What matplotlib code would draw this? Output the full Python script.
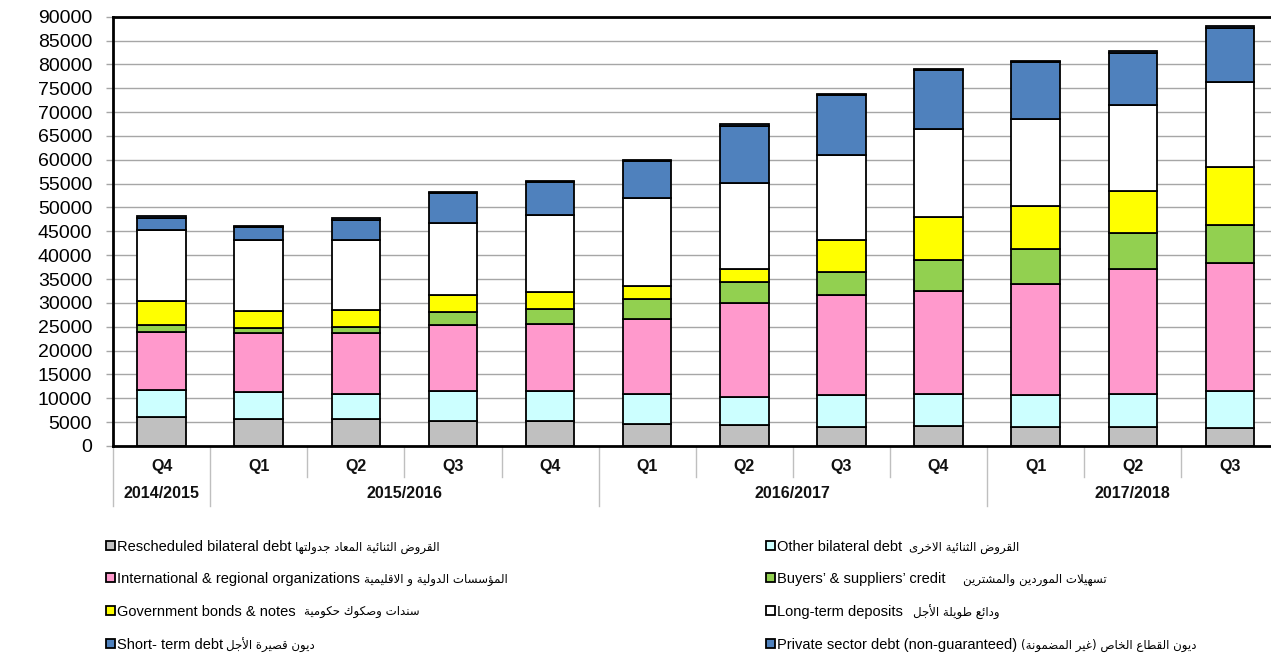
import numpy as np
import matplotlib
matplotlib.use("Agg")
import matplotlib.pyplot as plt
import matplotlib.transforms as mtransforms

# ---------------- data ----------------
quarters = ["Q4", "Q1", "Q2", "Q3", "Q4", "Q1", "Q2", "Q3", "Q4", "Q1", "Q2", "Q3"]
years = ["2014/2015", "2015/2016", "2016/2017", "2017/2018"]
year_spans = [(0, 0), (1, 4), (5, 8), (9, 11)]

rescheduled = [6100, 5650, 5600, 5300, 5300, 4600, 4400, 4050, 4250, 4050, 4050, 3850]
other_bilateral = [5600, 5600, 5250, 6300, 6300, 6350, 5950, 6650, 6650, 6650, 6850, 7700]
international = [12150, 12350, 12850, 13750, 14050, 15650, 19550, 20950, 21650, 23250, 26150, 26900]
buyers_suppliers = [1450, 1050, 1250, 2650, 3150, 4200, 4400, 4800, 6450, 7350, 7550, 7900]
gov_bonds = [5100, 3650, 3500, 3700, 3400, 2650, 2750, 6700, 9050, 9000, 8850, 12150]
long_term_deposits = [14950, 14900, 14750, 14950, 16300, 18500, 18150, 17950, 18400, 18250, 17950, 17750]
short_term = [2500, 2650, 4250, 6400, 6850, 7800, 11950, 12450, 12350, 11900, 10900, 11300]
private_sector = [300, 300, 300, 300, 300, 300, 300, 300, 300, 300, 450, 500]

series_en = [
    "Rescheduled bilateral debt",
    "Other bilateral debt",
    "International & regional organizations",
    "Buyers\u2019 & suppliers\u2019 credit",
    "Government bonds & notes",
    "Long-term deposits",
    "Short- term debt",
    "Private sector debt (non-guaranteed)",
]
series_ar = [
    "القروض الثنائية المعاد جدولتها",
    "القروض الثنائية الاخرى",
    "المؤسسات الدولية و الاقليمية",
    "تسهيلات الموردين والمشترين",
    "سندات وصكوك حكومية",
    "ودائع طويلة الأجل",
    "ديون قصيرة الأجل",
    "ديون القطاع الخاص (غير المضمونة)",
]
colors = ["#C0C0C0", "#CCFFFF", "#FF99CC", "#92D050", "#FFFF00", "#FFFFFF", "#4F81BD", "#4F81BD"]

# ---------------- layout constants (pixels) ----------------
W, H = 1271, 656
legend_cols_x = [106, 766]            # marker left edge of each legend column
legend_rows_y = [547, 579, 612, 645]  # row centres
arabic_gap_px = [4, 7, 4, 18, 8, 10, 3, 4]

# ---------------- Arabic shaping (presentation forms + visual order) ----------------
_TABLE = [
    ("\u0621", 0xFE80, 1), ("\u0622", 0xFE81, 2), ("\u0623", 0xFE83, 2), ("\u0624", 0xFE85, 2),
    ("\u0625", 0xFE87, 2), ("\u0626", 0xFE89, 4), ("\u0627", 0xFE8D, 2), ("\u0628", 0xFE8F, 4),
    ("\u0629", 0xFE93, 2), ("\u062A", 0xFE95, 4), ("\u062B", 0xFE99, 4), ("\u062C", 0xFE9D, 4),
    ("\u062D", 0xFEA1, 4), ("\u062E", 0xFEA5, 4), ("\u062F", 0xFEA9, 2), ("\u0630", 0xFEAB, 2),
    ("\u0631", 0xFEAD, 2), ("\u0632", 0xFEAF, 2), ("\u0633", 0xFEB1, 4), ("\u0634", 0xFEB5, 4),
    ("\u0635", 0xFEB9, 4), ("\u0636", 0xFEBD, 4), ("\u0637", 0xFEC1, 4), ("\u0638", 0xFEC5, 4),
    ("\u0639", 0xFEC9, 4), ("\u063A", 0xFECD, 4), ("\u0641", 0xFED1, 4), ("\u0642", 0xFED5, 4),
    ("\u0643", 0xFED9, 4), ("\u0644", 0xFEDD, 4), ("\u0645", 0xFEE1, 4), ("\u0646", 0xFEE5, 4),
    ("\u0647", 0xFEE9, 4), ("\u0648", 0xFEED, 2), ("\u0649", 0xFEEF, 2), ("\u064A", 0xFEF1, 4),
]
FORMS = {c: [chr(b + i) for i in range(n)] for c, b, n in _TABLE}
LAMALEF = {"\u0622": 0xFEF5, "\u0623": 0xFEF7, "\u0625": 0xFEF9, "\u0627": 0xFEFB}


def shape_ar(text):
    toks = []
    i = 0
    while i < len(text):
        c = text[i]
        if c == "\u0644" and i + 1 < len(text) and text[i + 1] in LAMALEF:
            toks.append(("LA", text[i + 1]))
            i += 2
        else:
            toks.append(("C", c))
            i += 1

    def joins(t):
        return t[0] == "LA" or (t[1] in FORMS and t[1] != "\u0621")

    def dual(t):
        return t[0] == "C" and t[1] in FORMS and len(FORMS[t[1]]) == 4

    out = []
    for k, t in enumerate(toks):
        prev = toks[k - 1] if k > 0 else None
        nxt = toks[k + 1] if k + 1 < len(toks) else None
        cp = prev is not None and dual(prev) and joins(t)
        if t[0] == "LA":
            out.append(chr(LAMALEF[t[1]] + (1 if cp else 0)))
            continue
        c = t[1]
        if c not in FORMS:
            out.append(c)
            continue
        f = FORMS[c]
        cn = len(f) == 4 and nxt is not None and joins(nxt)
        if cp and cn:
            out.append(f[3])
        elif cp:
            out.append(f[1])
        elif cn:
            out.append(f[2])
        else:
            out.append(f[0])
    s = "".join(out)[::-1]
    return s.translate(str.maketrans("()", ")("))


FONT = ["Liberation Sans", "DejaVu Sans"]
plt.rcParams["font.family"] = FONT

# ---------------- figure ----------------
fig = plt.figure(figsize=(W / 100, H / 100), dpi=100)
ax = fig.add_axes([113 / W, (H - 446) / H, (1278.5 - 113) / W, (446 - 16.7) / H])

data = [rescheduled, other_bilateral, international, buyers_suppliers,
        gov_bonds, long_term_deposits, short_term, private_sector]
x = np.arange(len(quarters))
bottom = np.zeros(len(quarters))
handles = []
for vals, col in zip(data, colors):
    v = np.array(vals, dtype=float)
    b = ax.bar(x, v, width=0.5, bottom=bottom, color=col, edgecolor="black",
               linewidth=1.3, zorder=3)
    handles.append(b)
    bottom += v

ax.set_xlim(-0.5, len(quarters) - 0.5)
ax.set_ylim(0, 90000)
ax.set_yticks(np.arange(0, 90001, 5000))
ax.set_yticklabels([str(v) for v in range(0, 90001, 5000)], fontsize=14)
ax.yaxis.grid(True, color="#A6A6A6", linewidth=1.0, zorder=0)
ax.tick_params(axis="y", length=5, width=1, color="#A6A6A6", pad=10)
ax.tick_params(axis="x", length=0, labelbottom=False)
for side in ["left", "bottom", "top"]:
    ax.spines[side].set_linewidth(2.0)
    ax.spines[side].set_color("black")
ax.spines["right"].set_visible(False)
ax.spines["left"].set_zorder(5)
ax.spines["bottom"].set_zorder(5)

# category table under the axis
trans = mtransforms.blended_transform_factory(ax.transData, ax.transAxes)
h_ax = 446 - 16.7
q_y = -(466 - 446) / h_ax
yr_y = -(494 - 446) / h_ax
short_d = -(477 - 446) / h_ax
long_d = -(506 - 446) / h_ax

for xi, q in zip(x, quarters):
    ax.text(xi, q_y, q, transform=trans, ha="center", va="center",
            fontsize=11.5, fontweight="bold", color="#111111")

long_bounds = [-0.5] + [s[1] + 0.5 for s in year_spans[:-1]]
for k in range(len(quarters)):
    xb = k - 0.5
    depth = long_d if xb in long_bounds else short_d
    ax.plot([xb, xb], [0, depth], transform=trans, color="#BFBFBF",
            linewidth=1.0, clip_on=False, zorder=1)

for (a, b), yl in zip(year_spans, years):
    ax.text((a + b) / 2, yr_y, yl, transform=trans, ha="center", va="center",
            fontsize=11.5, fontweight="bold", color="#111111")

# ---------------- legend: one entry per slot, two columns ----------------
legends = []
for i, (h, en) in enumerate(zip(handles, series_en)):
    col, row = i % 2, i // 2
    leg = fig.legend([h], [en], loc="center left",
                     bbox_to_anchor=(legend_cols_x[col] / W, (H - legend_rows_y[row]) / H),
                     frameon=False, handlelength=0.6, handleheight=0.6,
                     handletextpad=0.15, borderpad=0, borderaxespad=0,
                     prop={"family": FONT, "size": 10.5})
    legends.append(leg)

fig.canvas.draw()
renderer = fig.canvas.get_renderer()
for i, (leg, ar) in enumerate(zip(legends, series_ar)):
    row = i // 2
    bb = leg.get_texts()[0].get_window_extent(renderer)
    fig.text((bb.x1 + arabic_gap_px[i]) / W, (H - legend_rows_y[row]) / H, shape_ar(ar),
             ha="left", va="center", fontsize=8.5, family=["DejaVu Sans"], color="black")

fig.savefig("out.png", dpi=100)
